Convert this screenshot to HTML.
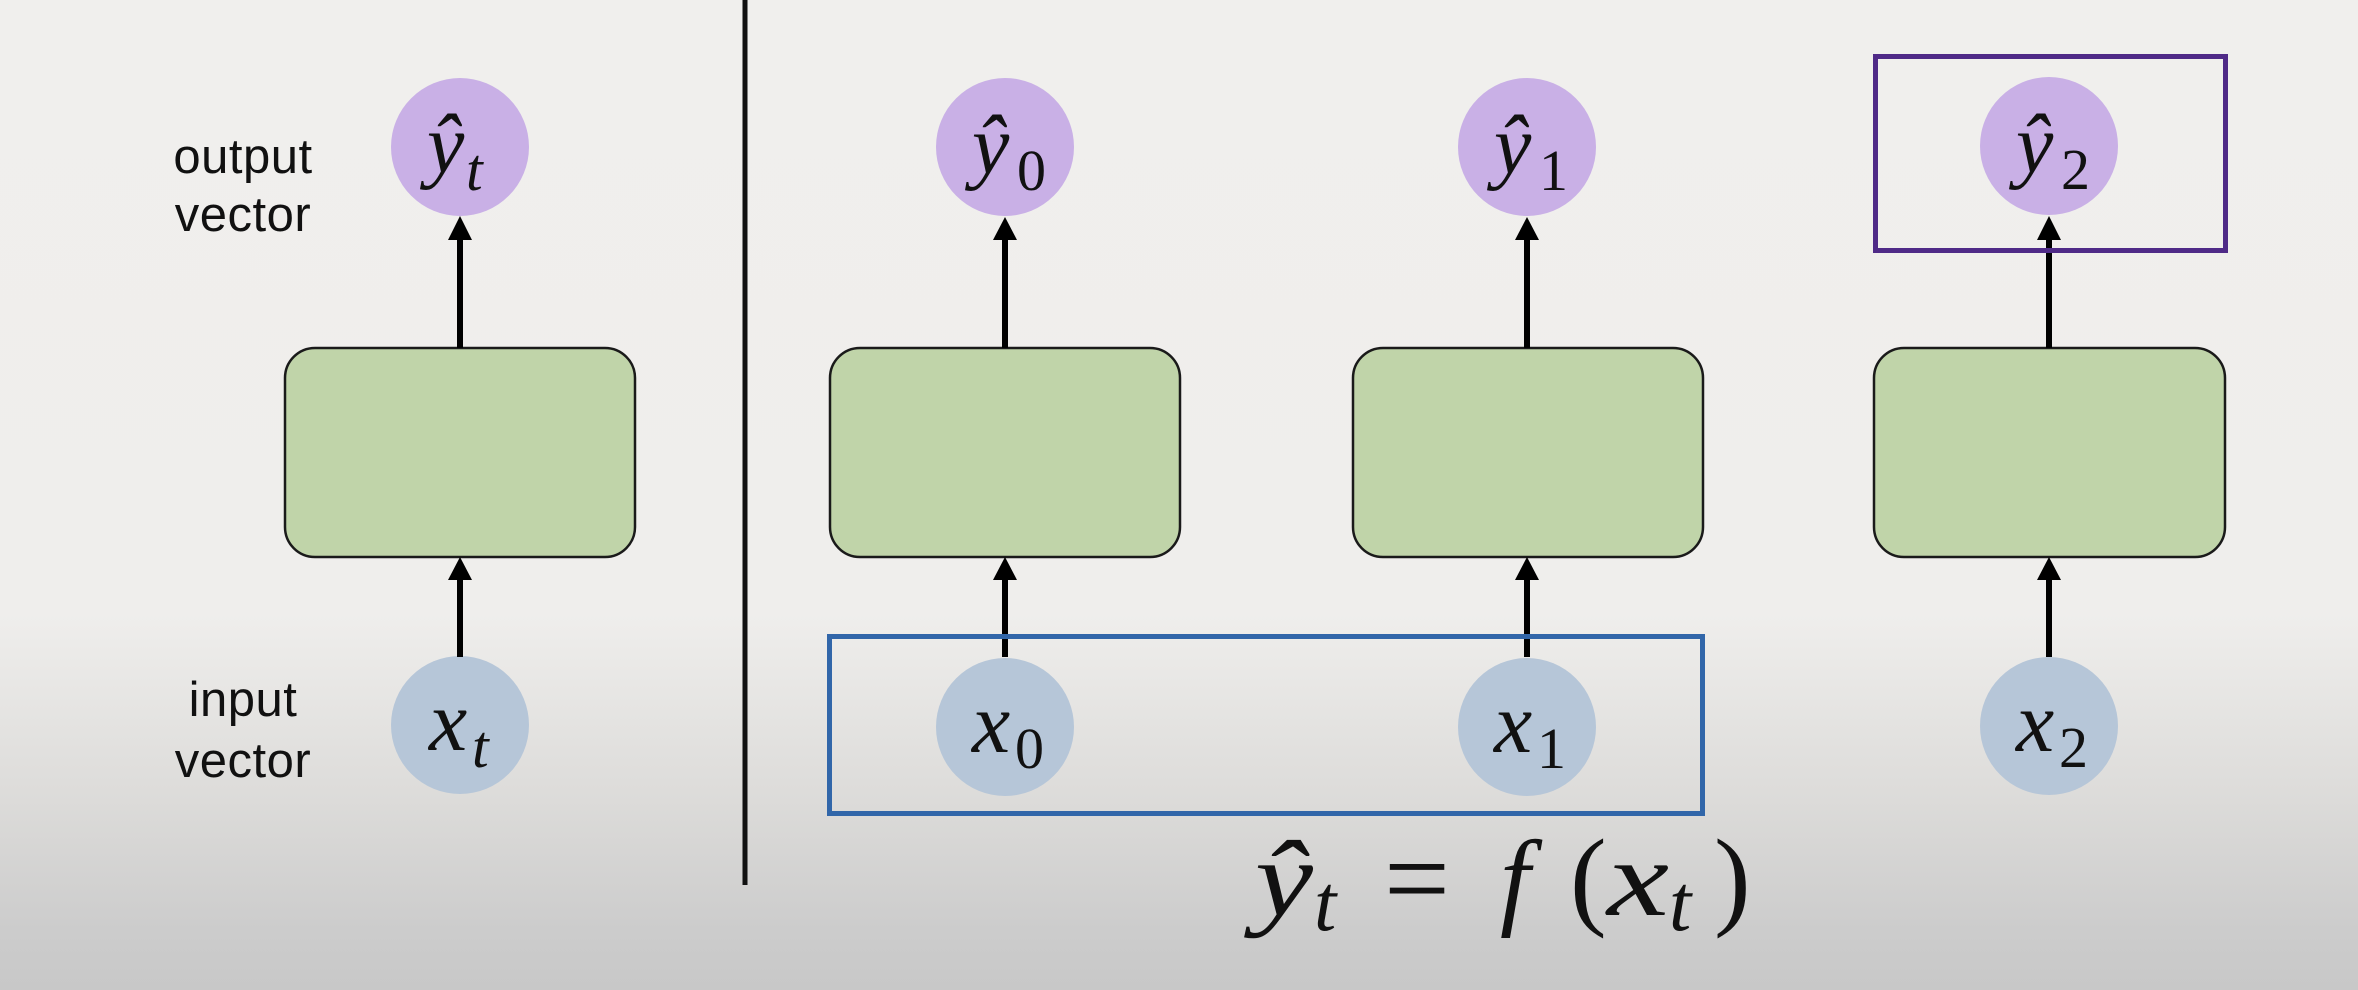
<!DOCTYPE html>
<html><head><meta charset="utf-8">
<style>
html,body{margin:0;padding:0;width:2358px;height:990px;overflow:hidden;background:#f0efed}
svg{display:block}
.lab{font-family:"Liberation Sans",Arial,sans-serif;font-size:49px;fill:#111;letter-spacing:0.5px}
.m{font-family:"Liberation Serif","DejaVu Serif",serif;font-style:italic;fill:#111}
.u{font-family:"Liberation Serif","DejaVu Serif",serif;font-style:normal;fill:#111}
</style></head>
<body>
<svg width="2358" height="990" viewBox="0 0 2358 990" xmlns="http://www.w3.org/2000/svg">
<defs>
<linearGradient id="bg" x1="0" y1="0" x2="0" y2="990" gradientUnits="userSpaceOnUse">
<stop offset="0" stop-color="#f0efed"/>
<stop offset="0.62" stop-color="#efeeec"/>
<stop offset="0.8" stop-color="#dddcda"/>
<stop offset="0.94" stop-color="#cccccc"/>
<stop offset="1" stop-color="#c8c8c8"/>
</linearGradient>
</defs>
<rect x="0" y="0" width="2358" height="990" fill="url(#bg)"/>

<!-- divider -->
<line x1="745" y1="0" x2="745" y2="885" stroke="#111" stroke-width="5"/>

<!-- left labels -->
<text class="lab" x="243" y="173" text-anchor="middle">output</text>
<text class="lab" x="243" y="231" text-anchor="middle">vector</text>
<text class="lab" x="243" y="716" text-anchor="middle">input</text>
<text class="lab" x="243" y="777" text-anchor="middle">vector</text>

<!-- boxes -->
<g fill="#c0d4a9" stroke="#1a1a1a" stroke-width="2.5">
<rect x="285" y="348" width="350" height="209" rx="30" ry="30"/>
<rect x="830" y="348" width="350" height="209" rx="30" ry="30"/>
<rect x="1353" y="348" width="350" height="209" rx="30" ry="30"/>
<rect x="1874" y="348" width="351" height="209" rx="30" ry="30"/>
</g>

<!-- circles -->
<g fill="#c9b0e6">
<circle cx="460" cy="147" r="69"/>
<circle cx="1005" cy="147" r="69"/>
<circle cx="1527" cy="147" r="69"/>
<circle cx="2049" cy="146" r="69"/>
</g>
<g fill="#b6c6d8">
<circle cx="460" cy="725" r="69"/>
<circle cx="1005" cy="727" r="69"/>
<circle cx="1527" cy="727" r="69"/>
<circle cx="2049" cy="726" r="69"/>
</g>

<!-- arrows -->
<g stroke="#000" stroke-width="6">
<line x1="460" y1="348" x2="460" y2="236"/>
<line x1="460" y1="657" x2="460" y2="576"/>
<line x1="1005" y1="348" x2="1005" y2="236"/>
<line x1="1005" y1="657" x2="1005" y2="576"/>
<line x1="1527" y1="348" x2="1527" y2="236"/>
<line x1="1527" y1="657" x2="1527" y2="576"/>
<line x1="2049" y1="348" x2="2049" y2="236"/>
<line x1="2049" y1="657" x2="2049" y2="576"/>
</g>
<g fill="#000">
<polygon points="460,216 448,240 472,240"/>
<polygon points="460,557 448,580 472,580"/>
<polygon points="1005,217 993,240 1017,240"/>
<polygon points="1005,557 993,580 1017,580"/>
<polygon points="1527,217 1515,240 1539,240"/>
<polygon points="1527,557 1515,580 1539,580"/>
<polygon points="2049,216 2037,240 2061,240"/>
<polygon points="2049,557 2037,580 2061,580"/>
</g>

<!-- highlight rects -->
<rect x="829.5" y="636.5" width="873" height="177" fill="none" stroke="#3166a9" stroke-width="5"/>
<rect x="1875.5" y="56.5" width="350" height="194" fill="none" stroke="#4f2a87" stroke-width="5"/>

<!-- circle labels -->
<text class="m" x="427" y="172" font-size="84">ŷ</text><text class="m" x="466" y="190" font-size="60">t</text>
<text class="m" x="972" y="173" font-size="84">ŷ</text><text class="u" x="1017" y="190" font-size="58">0</text>
<text class="m" x="1494" y="173" font-size="84">ŷ</text><text class="u" x="1539" y="190" font-size="58">1</text>
<text class="m" x="2016" y="172" font-size="84">ŷ</text><text class="u" x="2061" y="189" font-size="58">2</text>

<text class="m" x="429" y="750" font-size="86">x</text><text class="m" x="472" y="767" font-size="60">t</text>
<text class="m" x="972" y="752" font-size="86">x</text><text class="u" x="1015" y="768" font-size="58">0</text>
<text class="m" x="1494" y="752" font-size="86">x</text><text class="u" x="1537" y="768" font-size="58">1</text>
<text class="m" x="2016" y="751" font-size="86">x</text><text class="u" x="2059" y="767" font-size="58">2</text>

<!-- formula -->
<text class="m" x="1255" y="915" font-size="108" textLength="58" lengthAdjust="spacingAndGlyphs">ŷ</text>
<text class="m" x="1314" y="930" font-size="80">t</text>
<text class="u" x="1384" y="918" font-size="118" textLength="66" lengthAdjust="spacingAndGlyphs">=</text>
<text class="m" x="1500" y="915" font-size="108">f</text>
<text class="u" x="1570" y="915" font-size="110">(</text>
<text class="m" x="1607" y="915" font-size="108" textLength="62" lengthAdjust="spacingAndGlyphs">x</text>
<text class="m" x="1669" y="930" font-size="80">t</text>
<text class="u" x="1714" y="915" font-size="110">)</text>
</svg>
</body></html>
